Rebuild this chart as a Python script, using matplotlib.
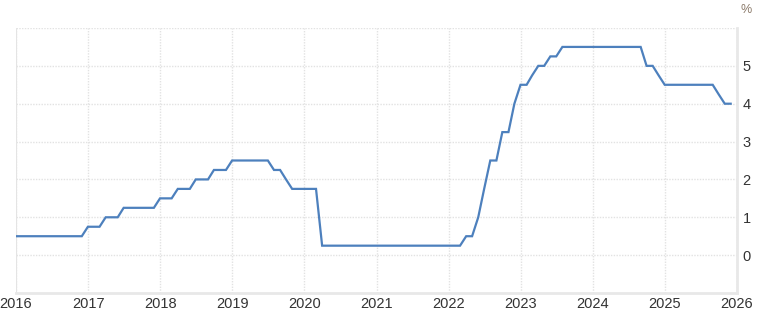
import matplotlib
matplotlib.use("Agg")
import matplotlib.pyplot as plt
import numpy as np
import pandas as pd

# monthly values (month end), Dec 2015 .. Nov 2025
rate_2015 = [0.5]
rate_2016 = [0.5, 0.5, 0.5, 0.5, 0.5, 0.5, 0.5, 0.5, 0.5, 0.5, 0.5, 0.75]
rate_2017 = [0.75, 0.75, 1.0, 1.0, 1.0, 1.25, 1.25, 1.25, 1.25, 1.25, 1.25, 1.5]
rate_2018 = [1.5, 1.5, 1.75, 1.75, 1.75, 2.0, 2.0, 2.0, 2.25, 2.25, 2.25, 2.5]
rate_2019 = [2.5, 2.5, 2.5, 2.5, 2.5, 2.5, 2.25, 2.25, 2.0, 1.75, 1.75, 1.75]
rate_2020 = [1.75, 1.75, 0.25, 0.25, 0.25, 0.25, 0.25, 0.25, 0.25, 0.25, 0.25, 0.25]
rate_2021 = [0.25] * 12
rate_2022 = [0.25, 0.25, 0.5, 0.5, 1.0, 1.75, 2.5, 2.5, 3.25, 3.25, 4.0, 4.5]
rate_2023 = [4.5, 4.75, 5.0, 5.0, 5.25, 5.25, 5.5, 5.5, 5.5, 5.5, 5.5, 5.5]
rate_2024 = [5.5, 5.5, 5.5, 5.5, 5.5, 5.5, 5.5, 5.5, 5.0, 5.0, 4.75, 4.5]
rate_2025 = [4.5, 4.5, 4.5, 4.5, 4.5, 4.5, 4.5, 4.5, 4.25, 4.0, 4.0]

years = list(range(2016, 2027))
y_ticks = [0, 1, 2, 3, 4, 5]

rates = (rate_2015 + rate_2016 + rate_2017 + rate_2018 + rate_2019 + rate_2020
         + rate_2021 + rate_2022 + rate_2023 + rate_2024 + rate_2025)
dates = pd.date_range("2015-12-31", periods=len(rates), freq="ME")


def to_year(d):
    # decimal year so ticks sit exactly on Jan 1
    start = pd.Timestamp(year=d.year, month=1, day=1)
    end = pd.Timestamp(year=d.year + 1, month=1, day=1)
    return d.year + (d - start) / (end - start)


x = np.array([to_year(d) for d in dates])

plt.rcParams["font.family"] = ["Liberation Sans", "DejaVu Sans"]

fig = plt.figure(figsize=(7.64, 3.16), dpi=100)
ax = fig.add_axes([16 / 764, 1 - 293 / 316, (737 - 16) / 764, (293 - 28) / 316])

ax.plot(x, rates, color="#4d80bd", linewidth=1.6, solid_joinstyle="miter", zorder=3)

ax.set_xlim(2016, 2026)
ax.set_ylim(-1, 6)

# dotted grid
for yr in years:
    ax.axvline(yr, color="#e2e2e2", linewidth=1, linestyle=(0, (1, 1)), zorder=1)
for v in range(0, 7):
    ax.axhline(v, color="#e2e2e2", linewidth=1, linestyle=(0, (1, 1)), zorder=1)

for side in ["top", "left"]:
    ax.spines[side].set_visible(False)
ax.spines["bottom"].set_color("#e8e8e8")
ax.spines["bottom"].set_linewidth(2)
ax.spines["right"].set_color("#e8e8e8")
ax.spines["right"].set_linewidth(2)
ax.axvline(2016, color="#e4e4e4", linewidth=1.5, zorder=1)

ax.yaxis.tick_right()
ax.set_yticks(y_ticks)
ax.set_yticklabels([str(v) for v in y_ticks])
ax.set_xticks(years)
ax.set_xticklabels([str(y) for y in years])
ax.tick_params(axis="both", length=0, labelsize=10.5, labelcolor="#333333")
ax.tick_params(axis="y", pad=4)
ax.tick_params(axis="x", pad=3)

fig.text(746 / 764, 1 - 10 / 316, "%", color="#8c7b6b", fontsize=9, ha="center", va="center")

fig.savefig("out.png", dpi=100, facecolor="white")
